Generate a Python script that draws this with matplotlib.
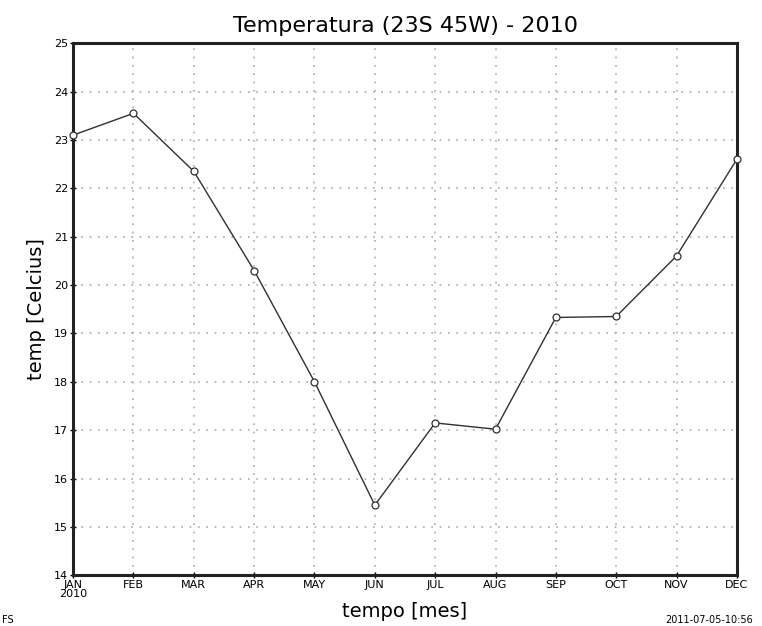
import matplotlib
matplotlib.use("Agg")
import matplotlib.pyplot as plt

# monthly mean temperature at 23S 45W, 2010
months = ["JAN\n2010", "FEB", "MAR", "APR", "MAY", "JUN",
          "JUL", "AUG", "SEP", "OCT", "NOV", "DEC"]
temps = [23.1, 23.55, 22.35, 20.3, 18.0, 15.45,
         17.15, 17.02, 19.33, 19.35, 20.6, 22.6]
yticks = list(range(14, 26))

fig = plt.figure(figsize=(7.62, 6.26), dpi=100)
ax = fig.add_axes([0.096, 0.081, 0.871, 0.850])

xs = list(range(len(temps)))
ax.plot(xs, temps, color="#303030", lw=1.0, marker="o", ms=5,
        mfc="white", mec="#303030", mew=0.9, clip_on=False, zorder=3)

ax.set_xlim(0, len(temps) - 1)
ax.set_ylim(14, 25)
ax.set_xticks(xs)
ax.set_xticklabels(months, fontsize=8, linespacing=0.85)
ax.set_yticks(yticks)
ax.set_yticklabels([str(v) for v in yticks], fontsize=8)
ax.tick_params(direction="inout", length=5, width=1, pad=1)

ax.grid(True, color="#aaaaaa", linestyle=(0, (1, 4)), lw=1.2)
for s in ax.spines.values():
    s.set_linewidth(2.2)
    s.set_color("#222222")

ax.set_title("Temperatura (23S 45W) - 2010", fontsize=16, pad=8)
ax.set_xlabel("tempo [mes]", fontsize=14, labelpad=2)
ax.set_ylabel("temp [Celcius]", fontsize=14, labelpad=6)

# footer stamps (cut at the frame edge in the original)
fig.text(0.002, 0.004, "FS", fontsize=7)
fig.text(0.988, 0.004, "2011-07-05-10:56", fontsize=7, ha="right")

fig.savefig("out.png", dpi=100)
